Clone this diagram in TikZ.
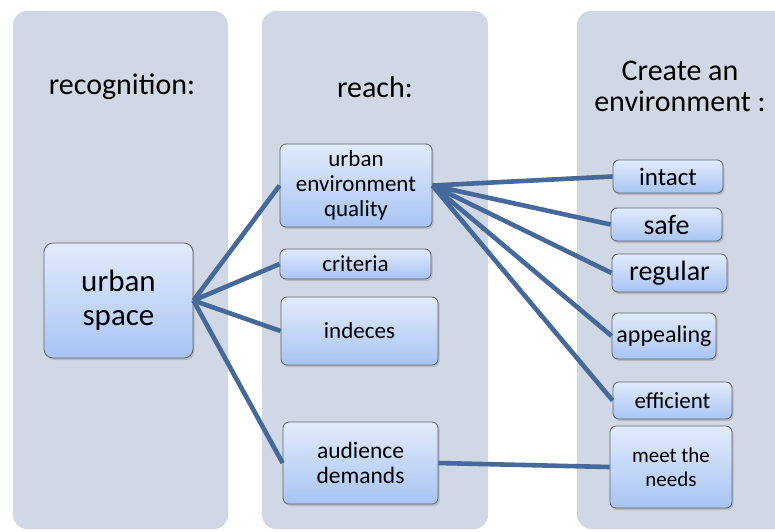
\documentclass[tikz,border=0pt]{standalone}
\usepackage{fontspec}
\setmainfont{Carlito}
\usetikzlibrary{shadows}

\definecolor{colgray}{HTML}{D1D8E5}
\definecolor{linkblue}{HTML}{44699A}
\definecolor{boxtop}{HTML}{E2EBFC}
\definecolor{boxbot}{HTML}{A8C4F4}
\definecolor{boxline}{HTML}{5F6368}

\begin{document}
\begin{tikzpicture}[x=1pt, y=-1pt,
  column/.style={fill=colgray, rounded corners=14pt},
  box/.style={draw=boxline, line width=0.8pt, rounded corners=6pt, top color=boxtop, bottom color=boxbot,
    align=center, inner sep=0pt, drop shadow={opacity=0.35, shadow xshift=1.5pt, shadow yshift=-2pt}},
  link/.style={draw=linkblue, line width=4.6pt},
  title/.style={align=center, font=\fontsize{30}{31}\selectfont}]
  \clip (0, 0) rectangle (775, 531);

  % the three columns
  \fill[column] (13, 11) rectangle (228, 529);
  \fill[column] (262, 11) rectangle (488, 529);
  \fill[column] (577, 11) rectangle (800, 529);

  \node[title] (t1) at (122, 87) {recognition:};
  \node[title] (t2) at (375, 87) {reach:};
  \node[title] (t3) at (680, 86) {Create an\\environment :};

  \node[box, rounded corners=9pt, minimum width=149, minimum height=115, font=\fontsize{31}{34}\selectfont] (us) at (118.5, 300.5) {urban\\space};

  \node[box, minimum width=152, minimum height=83, font=\fontsize{23}{25}\selectfont] (ueq) at (356, 185.5) {urban\\environment\\quality};
  \node[box, minimum width=151, minimum height=30, font=\fontsize{23}{25}\selectfont] (crit) at (355.5, 264) {criteria};
  \node[box, minimum width=157, minimum height=68, font=\fontsize{23}{25}\selectfont] (ind) at (359.5, 331) {indeces};
  \node[box, minimum width=155, minimum height=82, font=\fontsize{23.5}{25}\selectfont] (aud) at (360.5, 463) {audience\\demands};

  \node[box, minimum width=110, minimum height=33, font=\fontsize{25}{27}\selectfont] (intact) at (668, 176.5) {intact};
  \node[box, minimum width=111, minimum height=33, font=\fontsize{28}{30}\selectfont] (safe) at (666.5, 224.5) {safe};
  \node[box, minimum width=115, minimum height=38, font=\fontsize{28}{30}\selectfont] (regular) at (669.5, 273) {regular};
  \node[box, minimum width=104, minimum height=46, font=\fontsize{24}{26}\selectfont] (appeal) at (664, 336) {appealing};
  \node[box, minimum width=119, minimum height=37, font=\fontsize{23}{25}\selectfont] (effic) at (672.5, 400.5) {efficient};
  \node[box, minimum width=122, minimum height=82, font=\fontsize{21}{24}\selectfont] (needs) at (671, 467) {meet the\\needs};

  % links
  \draw[link] (us.east) -- (ueq.west);
  \draw[link] (us.east) -- (crit.west);
  \draw[link] (us.east) -- (ind.west);
  \draw[link] (us.east) -- (aud.west);
  \draw[link] (ueq.east) -- (intact.west);
  \draw[link] (ueq.east) -- (safe.west);
  \draw[link] (ueq.east) -- (regular.west);
  \draw[link] (ueq.east) -- (appeal.west);
  \draw[link] (ueq.east) -- (effic.west);
  \draw[link] (aud.east) -- (needs.west);
\end{tikzpicture}
\end{document}
